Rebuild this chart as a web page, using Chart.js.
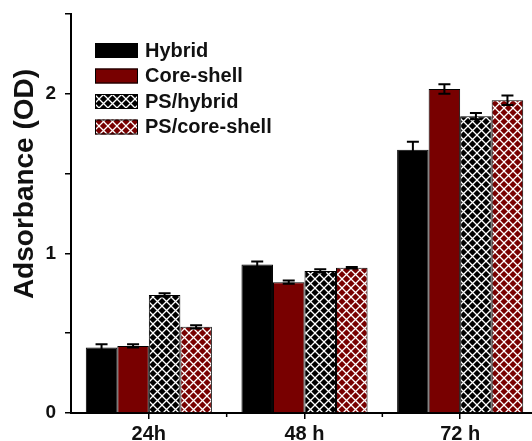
<!DOCTYPE html>
<html>
<head>
<meta charset="utf-8">
<script src="https://cdn.jsdelivr.net/npm/chart.js@4"></script>
<style>
html, body { margin: 0; padding: 0; background: #fff; overflow: hidden; }
</style>
</head>
<body>
<canvas id="graf" width="538" height="441"></canvas>
<script>
// Kategorier och serier
const tider = ['24h', '48 h', '72 h'];
const serier = ['Hybrid', 'Core-shell', 'PS/hybrid', 'PS/core-shell'];

// Medelvärden (OD)
const hybrid = [0.41, 0.93, 1.65];
const coreShell = [0.42, 0.82, 2.03];
const psHybrid = [0.74, 0.89, 1.86];
const psCoreShell = [0.54, 0.91, 1.96];

// Felstaplar
const felHybrid = [0.02, 0.02, 0.05];
const felCoreShell = [0.01, 0.01, 0.03];
const felPsHybrid = [0.01, 0.01, 0.02];
const felPsCoreShell = [0.01, 0.005, 0.03];

const yTicks = [0, 1, 2];

const rod = '#780000';

// Rutmönster (vita diagonala linjer)
function rutmonster(farg) {
    const c = document.createElement('canvas');
    c.width = 9; c.height = 9;
    const g = c.getContext('2d');
    g.fillStyle = farg;
    g.fillRect(0, 0, 9, 9);
    g.strokeStyle = '#fff';
    g.lineWidth = 1.3;
    g.beginPath();
    g.moveTo(-1, -1); g.lineTo(10, 10);
    g.moveTo(10, -1); g.lineTo(-1, 10);
    g.stroke();
    return g.createPattern(c, 'repeat');
}

// Felstaplar ritas efter staplarna
const felstaplar = {
    id: 'felstaplar',
    afterDatasetsDraw(chart) {
        const ctx = chart.ctx;
        const y = chart.scales.y;
        ctx.save();
        ctx.strokeStyle = '#000';
        ctx.lineWidth = 2;
        chart.data.datasets.forEach((ds, i) => {
            chart.getDatasetMeta(i).data.forEach((bar, j) => {
                const v = ds.data[j], e = ds.fel[j];
                const topp = y.getPixelForValue(v + e);
                const botten = y.getPixelForValue(v - e);
                ctx.beginPath();
                ctx.moveTo(bar.x, topp); ctx.lineTo(bar.x, botten);
                ctx.moveTo(bar.x - 6, topp); ctx.lineTo(bar.x + 6, topp);
                ctx.moveTo(bar.x - 6, botten); ctx.lineTo(bar.x + 6, botten);
                ctx.stroke();
            });
        });
        ctx.restore();
    }
};

// Små streck mellan kategorierna, legend och y-titel
const extra = {
    id: 'extra',
    afterDraw(chart) {
        const ctx = chart.ctx;
        const x = chart.scales.x;
        const area = chart.chartArea;
        ctx.save();
        ctx.strokeStyle = '#000';
        ctx.lineWidth = 1.5;
        for (let i = 0; i < tider.length - 1; i++) {
            const mitt = (x.getPixelForValue(i) + x.getPixelForValue(i + 1)) / 2;
            ctx.beginPath();
            ctx.moveTo(mitt, area.bottom);
            ctx.lineTo(mitt, area.bottom + 4);
            ctx.stroke();
        }

        // Legend
        ctx.font = 'bold 20px "Liberation Sans", Arial, sans-serif';
        ctx.textBaseline = 'middle';
        ctx.textAlign = 'left';
        chart.data.datasets.forEach((ds, i) => {
            const yy = 43 + i * 25.5;
            ctx.fillStyle = ds.backgroundColor;
            ctx.fillRect(95, yy, 43, 15);
            ctx.lineWidth = 1;
            ctx.strokeStyle = '#000';
            ctx.strokeRect(95.5, yy + 0.5, 42, 14);
            ctx.fillStyle = '#111';
            ctx.fillText(ds.label, 145, yy + 8);
        });

        // Y-axelns titel
        ctx.translate(25, 184);
        ctx.rotate(-Math.PI / 2);
        ctx.textAlign = 'center';
        ctx.font = 'bold 28px "Liberation Sans", Arial, sans-serif';
        ctx.fillStyle = '#111';
        ctx.fillText('Adsorbance (OD)', 0, 0);
        ctx.restore();
    }
};

const graf = document.querySelector('#graf');

new Chart(graf, {
    type: 'bar',
    data: {
        labels: tider,
        datasets: [
            { label: serier[0], data: hybrid, fel: felHybrid, backgroundColor: '#000' },
            { label: serier[1], data: coreShell, fel: felCoreShell, backgroundColor: rod },
            { label: serier[2], data: psHybrid, fel: felPsHybrid, backgroundColor: rutmonster('#000') },
            { label: serier[3], data: psCoreShell, fel: felPsCoreShell, backgroundColor: rutmonster(rod) }
        ].map(ds => ({ ...ds, borderColor: '#000', borderWidth: 1, categoryPercentage: 0.81, barPercentage: 1 }))
    },
    options: {
        responsive: false,
        animation: false,
        layout: { padding: { top: 14, left: 0, right: 0, bottom: 0 } },
        plugins: { legend: { display: false }, tooltip: { enabled: false } },
        scales: {
            x: {
                afterFit: s => { s.height = 28; s.paddingLeft = 0; s.paddingRight = 0; },
                border: { color: '#000', width: 2 },
                grid: { offset: false, drawOnChartArea: false, tickLength: 6, color: '#000', lineWidth: 1.5 },
                ticks: {
                    color: '#111',
                    padding: 5,
                    font: { family: '"Liberation Sans", Arial, sans-serif', size: 20, weight: 'bold', lineHeight: 1 }
                }
            },
            y: {
                min: 0,
                max: 2.5,
                afterFit: s => { s.width = 71; s.paddingTop = 0; s.paddingBottom = 0; },
                border: { color: '#000', width: 2 },
                grid: { drawOnChartArea: false, tickLength: 6, color: '#000', lineWidth: 1.5 },
                ticks: {
                    stepSize: 0.5,
                    color: '#111',
                    padding: 9,
                    callback: v => yTicks.includes(v) ? v : '',
                    font: { family: '"Liberation Sans", Arial, sans-serif', size: 19, weight: 'bold' }
                }
            }
        }
    },
    plugins: [felstaplar, extra]
});
</script>
</body>
</html>
